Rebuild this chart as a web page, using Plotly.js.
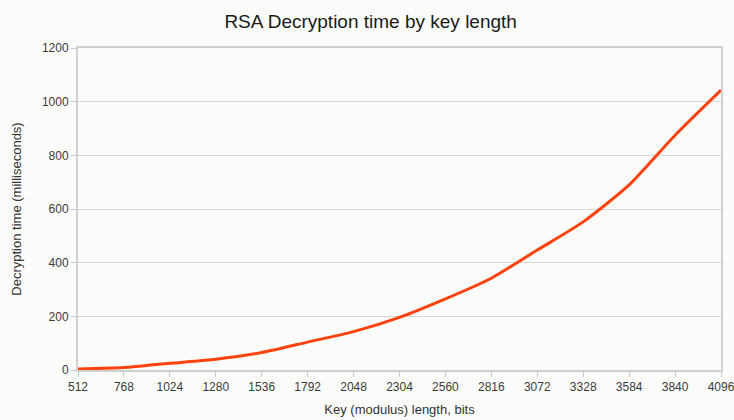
<!DOCTYPE html>
<html>
<head>
<meta charset="utf-8">
<script src="https://cdn.plot.ly/plotly-3.0.1.min.js"></script>
<style>
html,body{margin:0;padding:0;background:#fcfdfb;}
#chart{width:734px;height:420px;}
</style>
</head>
<body>
<div id="chart"></div>
<script>
const keyLengths = [512, 768, 1024, 1280, 1536, 1792, 2048, 2304, 2560, 2816, 3072, 3328, 3584, 3840, 4096];
const decryptMs = [4, 9, 25, 40, 65, 104, 143, 196, 265, 342, 447, 552, 690, 875, 1043];
const yTicks = [0, 200, 400, 600, 800, 1000, 1200];

const trace = {
  x: keyLengths,
  y: decryptMs,
  type: 'scatter',
  mode: 'lines',
  line: {color: '#ff420e', width: 3, shape: 'spline', smoothing: 0.6},
  hoverinfo: 'x+y'
};

const layout = {
  width: 734,
  height: 420,
  paper_bgcolor: '#fcfdfb',
  plot_bgcolor: '#fcfdfb',
  margin: {l: 78, r: 13, t: 48, b: 50},
  showlegend: false,
  font: {family: '"Liberation Sans", Arial, sans-serif', color: '#333'},
  title: {
    text: 'RSA Decryption time by key length',
    font: {size: 19, color: '#1a1a1a', family: '"Liberation Sans", Arial, sans-serif'},
    xref: 'container', x: 0.505, xanchor: 'center',
    yref: 'container', y: 0.95, yanchor: 'middle'
  },
  xaxis: {
    range: [512, 4096],
    tickvals: keyLengths,
    ticktext: keyLengths.map(String),
    ticks: 'outside',
    ticklen: 5,
    tickcolor: '#c8c8c8',
    tickfont: {size: 12, color: '#3a3a3a'},
    ticklabeloverflow: 'allow',
    showgrid: false,
    zeroline: false,
    showline: true,
    linecolor: '#d0d0d0',
    linewidth: 2,
    mirror: true,
    title: {text: 'Key (modulus) length, bits', font: {size: 13, color: '#333'}, standoff: 11}
  },
  yaxis: {
    range: [0, 1200],
    tickvals: yTicks,
    ticks: 'outside',
    ticklen: 5,
    tickcolor: '#c8c8c8',
    tickfont: {size: 12, color: '#3a3a3a'},
    showgrid: true,
    gridcolor: '#d6d6d6',
    gridwidth: 1,
    zeroline: false,
    showline: true,
    linecolor: '#d0d0d0',
    linewidth: 2,
    mirror: true,
    title: {text: 'Decryption time (milliseconds)', font: {size: 13, color: '#333'}, standoff: 17}
  }
};

Plotly.newPlot('chart', [trace], layout, {displayModeBar: false, staticPlot: true});
</script>
</body>
</html>
